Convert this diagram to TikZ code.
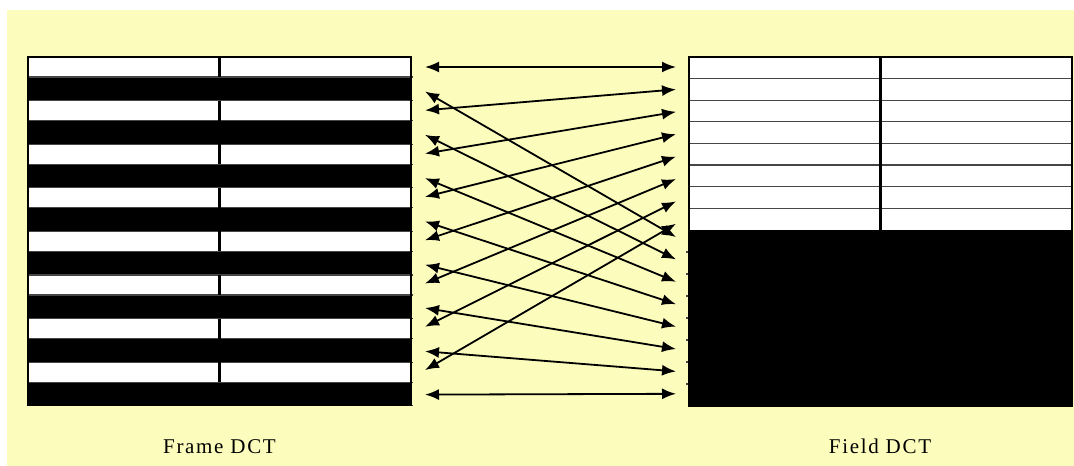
\documentclass[tikz,border=0pt]{standalone}
\usepackage{fontspec}
\setmainfont{Liberation Serif}
\usetikzlibrary{arrows.meta}
\definecolor{bgyellow}{RGB}{252,252,188}
\definecolor{rowline}{RGB}{70,70,70}
\begin{document}
\begin{tikzpicture}[x=1pt,y=-1pt,
  conn/.style={{Latex[length=14pt,width=11pt]}-{Latex[length=14pt,width=11pt]}, line width=1.8pt},
  rowsep/.style={rowline, line width=1.2pt},
  divider/.style={black, line width=2.8pt},
  frameline/.style={black, line width=1.2pt},
  lbl/.style={font=\fontsize{21}{25}\selectfont\addfontfeatures{LetterSpace=8}, inner sep=0pt, anchor=base}]
\useasboundingbox (0,0) rectangle (1074,466);
\fill[bgyellow] (7,10) rectangle (1074,466);
% ---- left grid (Frame DCT)
\foreach \k in {0,...,7} {
  \pgfmathsetmacro\ya{57+43.6*\k}
  \fill[white] (28,\ya) rectangle (411,\ya+20);
  \fill[black] (28,\ya+20) rectangle (411,\ya+43.6);
  \draw[rowsep] (28,\ya) rectangle (411,\ya+20);
  \draw[divider] (219.5,\ya) -- (219.5,\ya+20);
  \draw[rowsep] (410,\ya+20) -- (413,\ya+20);
  \draw[rowsep] (410,\ya+43.6) -- (413,\ya+43.6);
}
\draw[frameline] (28,57) rectangle (411,405.8);
% ---- right grid (Field DCT)
\fill[white] (689,57) rectangle (1072,230);
\fill[black] (689,230) rectangle (1072,406);
\foreach \j in {1,...,7} {
  \draw[rowsep] (689,57+21.6*\j) -- (1072,57+21.6*\j);
  \draw[rowsep] (686,230+22*\j) -- (690,230+22*\j);
}
\draw[divider] (880.5,57) -- (880.5,230);
\draw[frameline] (689,57) rectangle (1072,406);
% ---- arrow end points
\foreach \k in {0,...,7} {
  \pgfmathtruncatemacro\ie{2*\k}
  \pgfmathtruncatemacro\io{2*\k+1}
  \pgfmathtruncatemacro\jb{8+\k}
  \coordinate (L\ie) at (425,67+43.3*\k);
  \coordinate (L\io) at (425,91.5+43.3*\k);
  \coordinate (R\k) at (676,67+22.4*\k);
  \coordinate (R\jb) at (676,237+22.4*\k);
}
% ---- connectors
\foreach \k in {0,...,7} {
  \pgfmathtruncatemacro\ie{2*\k}
  \pgfmathtruncatemacro\io{2*\k+1}
  \pgfmathtruncatemacro\jb{8+\k}
  \draw[conn] (L\ie) -- (R\k);
  \draw[conn] (L\io) -- (R\jb);
}
% ---- labels
\node[lbl] (framelbl) at (219.5,453) {Frame DCT};
\node[lbl] (fieldlbl) at (880,453) {Field DCT};
\end{tikzpicture}
\end{document}
